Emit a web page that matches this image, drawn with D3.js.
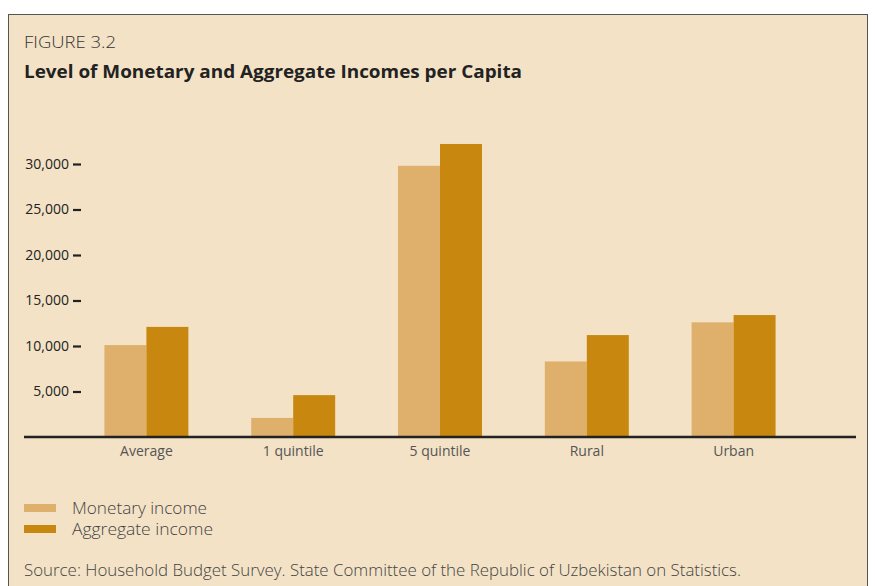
<!DOCTYPE html>
<html><head><meta charset="utf-8">
<script src="https://cdn.jsdelivr.net/npm/d3@7/dist/d3.min.js"></script>
<style>
html,body{margin:0;padding:0;background:#fff;}
svg{display:block;}
text{font-family:"Open Sans","Noto Sans",sans-serif;}
</style></head>
<body>
<script>
const categories = ["Average", "1 quintile", "5 quintile", "Rural", "Urban"];
const seriesNames = ["Monetary income", "Aggregate income"];
const monetary = [10100, 2100, 29800, 8300, 12600];
const aggregate = [12100, 4600, 32200, 11200, 13400];
const yTicks = [5000, 10000, 15000, 20000, 25000, 30000];
const colors = ["#dfb06c", "#c8880f"];

const W = 875, H = 586;
const svg = d3.select("body").append("svg").attr("width", W).attr("height", H);

// panel
svg.append("rect").attr("x", 8.5).attr("y", 14.5).attr("width", 859).attr("height", 600)
  .attr("fill", "#f3e2c6").attr("stroke", "#555").attr("stroke-width", 1);

svg.append("text").attr("x", 24).attr("y", 48).attr("font-size", 17).attr("font-weight", 300)
  .attr("fill", "#333").attr("textLength", 92).attr("lengthAdjust", "spacingAndGlyphs").text("FIGURE 3.2");
svg.append("text").attr("x", 24).attr("y", 78).attr("font-size", 18).attr("font-weight", 700)
  .attr("fill", "#222").attr("textLength", 498).attr("lengthAdjust", "spacingAndGlyphs")
  .text("Level of Monetary and Aggregate Incomes per Capita");

const y = d3.scaleLinear().domain([0, 30000]).range([437, 164]);
const x = d3.scaleBand().domain(categories).range([73, 807]).paddingInner(0.428).paddingOuter(0.214);
const xs = d3.scaleBand().domain(seriesNames).range([0, x.bandwidth()]);

const data = categories.map((c, i) => ({c, vals: [monetary[i], aggregate[i]]}));

const g = svg.append("g");
g.selectAll("g.grp").data(data).join("g").attr("class", "grp")
  .attr("transform", d => `translate(${x(d.c)},0)`)
  .selectAll("rect").data(d => d.vals.map((v, j) => ({v, s: seriesNames[j], j})))
  .join("rect")
  .attr("x", d => xs(d.s)).attr("width", xs.bandwidth())
  .attr("y", d => y(d.v)).attr("height", d => y(0) - y(d.v))
  .attr("fill", d => colors[d.j]);

// y axis
const yAxis = d3.axisLeft(y).tickValues(yTicks).tickSize(8).tickPadding(4).tickFormat(d3.format(","));
const ya = svg.append("g").attr("transform", "translate(81,0)").call(yAxis);
ya.select(".domain").remove();
ya.selectAll(".tick line").attr("stroke", "#222").attr("stroke-width", 2.2);
ya.selectAll(".tick text").attr("font-size", 14).attr("fill", "#222")
  .attr("font-family", '"Open Sans",sans-serif');

// baseline
svg.append("line").attr("x1", 24).attr("x2", 856).attr("y1", y(0)).attr("y2", y(0))
  .attr("stroke", "#222").attr("stroke-width", 2.5);

// x axis labels
const xAxis = d3.axisBottom(x).tickSize(0).tickPadding(8);
const xa = svg.append("g").attr("transform", `translate(0,${y(0) + 1})`).call(xAxis);
xa.select(".domain").remove();
xa.selectAll(".tick text").attr("font-size", 14).attr("fill", "#555")
  .attr("font-family", '"Open Sans",sans-serif').attr("font-weight", 400);

// legend
const lw = [135, 141];
const leg = svg.append("g");
seriesNames.forEach((s, i) => {
  const yy = 508 + i * 21;
  leg.append("rect").attr("x", 24).attr("y", yy - 4).attr("width", 32).attr("height", 8).attr("fill", colors[i]);
  leg.append("text").attr("x", 72).attr("y", yy + 5.5).attr("font-size", 16).attr("font-weight", 300)
    .attr("fill", "#444").attr("textLength", lw[i]).attr("lengthAdjust", "spacingAndGlyphs").text(s);
});

svg.append("text").attr("x", 24).attr("y", 576).attr("font-size", 16).attr("font-weight", 300)
  .attr("fill", "#444").attr("textLength", 717).attr("lengthAdjust", "spacingAndGlyphs")
  .text("Source: Household Budget Survey. State Committee of the Republic of Uzbekistan on Statistics.");
</script>
</body></html>
